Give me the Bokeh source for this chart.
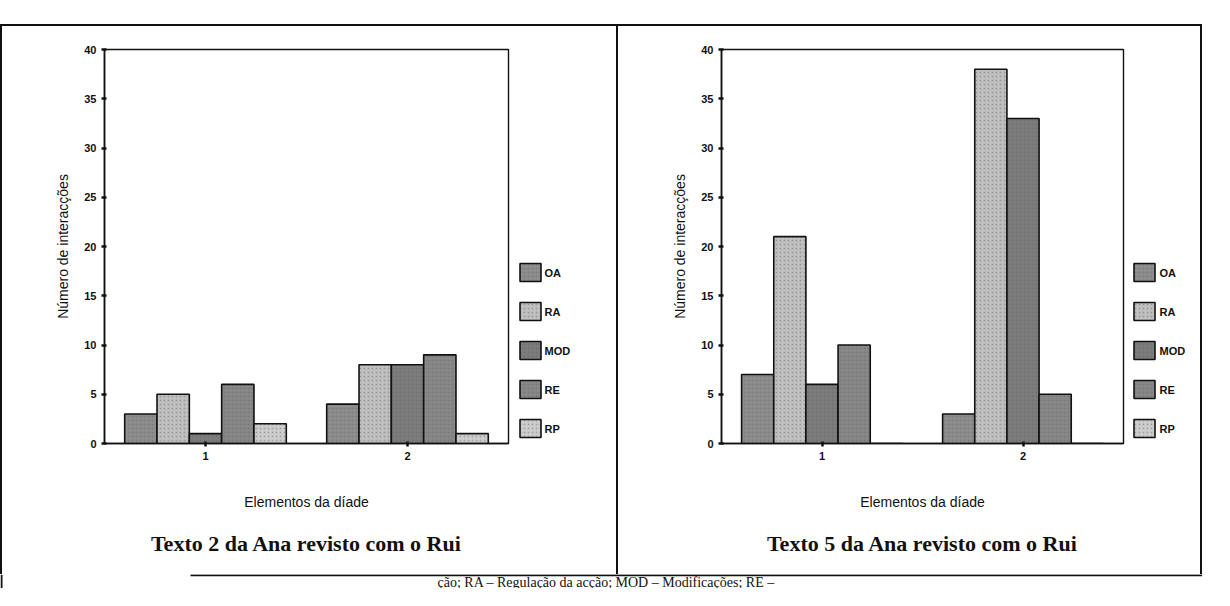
from bokeh.plotting import figure
from bokeh.models import (FactorRange, Range1d, FixedTicker, Title, Div, ColumnDataSource)
from bokeh.layouts import row, column
from bokeh.transform import dodge
from bokeh.core.properties import value
from bokeh.embed import file_html
from bokeh.resources import INLINE

# ---------------- data ----------------
groups = ["1", "2"]
series = ["OA", "RA", "MOD", "RE", "RP"]

t2_OA = [3, 4]
t2_RA = [5, 8]
t2_MOD = [1, 8]
t2_RE = [6, 9]
t2_RP = [2, 1]

t5_OA = [7, 3]
t5_RA = [21, 38]
t5_MOD = [6, 33]
t5_RE = [10, 5]
t5_RP = [0, 0]

y_ticks = [0, 5, 10, 15, 20, 25, 30, 35, 40]
y_label = "Número de interacções"
x_label = "Elementos da díade"
title_left = "Texto 2 da Ana revisto com o Rui"
title_right = "Texto 5 da Ana revisto com o Rui"
caption = "ção; RA – Regulação da acção; MOD – Modificações; RE –"

# ---------------- styles ----------------
colors = ["#8e8e8e", "#c0c0c0", "#7c7c7c", "#888888", "#cdcdcd"]
offsets = [-0.32, -0.16, 0.0, 0.16, 0.32]
SANS = "Liberation Sans"
SERIF = "Liberation Serif"
INK = "#111111"
FH = 394          # frame height (pixels)
MBT = 23          # top border shared by the row
MBB = 131         # bottom border shared by the row
HATCH = dict(hatch_pattern="dot", hatch_scale=4, hatch_color="#555555",
             hatch_alpha=0.35, hatch_weight=1)


def make_chart(vals, title, fw, mb_left):
    src = ColumnDataSource(dict(g=groups, **{s: v for s, v in zip(series, vals)}))
    p = figure(x_range=FactorRange(factors=groups, range_padding=0),
               y_range=Range1d(0, 40), frame_width=fw, frame_height=FH,
               output_backend="svg", toolbar_location=None,
               min_border_left=mb_left, min_border_right=2,
               min_border_top=MBT, min_border_bottom=MBB,
               background_fill_color="white", border_fill_color="white")
    p.xgrid.visible = False
    p.ygrid.visible = False
    p.outline_line_color = INK
    p.outline_line_width = 1.4

    for s, c, off in zip(series, colors, offsets):
        p.vbar(x=dodge("g", off, range=p.x_range), top=s, width=0.16, source=src,
               fill_color=c, line_color=INK, line_width=1.6, **HATCH)

    for ax in (p.xaxis[0], p.yaxis[0]):
        ax.axis_line_color = INK
        ax.axis_line_width = 1.6
        ax.major_tick_line_color = INK
        ax.major_tick_line_width = 2.5
        ax.major_tick_in = 2
        ax.major_tick_out = 3
        ax.minor_tick_line_color = None
        ax.major_label_text_font = SANS
        ax.major_label_text_font_style = "bold"
        ax.major_label_text_font_size = "11px"
        ax.major_label_text_color = INK
        ax.axis_label_text_font = SANS
        ax.axis_label_text_font_style = "normal"
        ax.axis_label_text_font_size = "14px"
        ax.axis_label_text_color = INK

    p.yaxis[0].ticker = FixedTicker(ticks=y_ticks)
    p.yaxis[0].axis_label = y_label
    p.yaxis[0].axis_label_standoff = 10
    p.xaxis[0].axis_label = x_label
    p.xaxis[0].axis_label_standoff = 31

    t = Title(text=title, align="center", text_font=SERIF,
              text_font_size="22px", text_font_style="bold", text_color=INK,
              standoff=32)
    p.add_layout(t, "below")
    return p


def make_legend(width, box_x, text_x):
    # legend panel beside a chart: swatches drawn from the series list
    row_y = [223, 262, 301, 340, 379]      # centres, pixels below the frame top
    lg = figure(x_range=Range1d(0, width), y_range=Range1d(FH, 0),
                frame_width=width, frame_height=FH, output_backend="svg",
                toolbar_location=None, min_border_left=0, min_border_right=0,
                min_border_top=MBT, min_border_bottom=MBB,
                background_fill_color="white", border_fill_color="white")
    lg.outline_line_color = None
    lg.axis.visible = False
    lg.grid.visible = False
    src = ColumnDataSource(dict(x=[box_x] * len(series), y=row_y, c=colors,
                                tx=[text_x] * len(series), lab=series))
    lg.rect(x="x", y="y", width=21, height=18, fill_color="c", line_color=INK,
            line_width=1.6, source=src, **HATCH)
    lg.text(x="tx", y="y", text="lab", source=src, text_font=value(SANS),
            text_font_size="11px", text_font_style="bold", text_color=INK,
            text_baseline="middle", text_align="left")
    return lg


def vline(h):
    return Div(text="", width=2, height=h, margin=0, styles={"background-color": INK})


p1 = make_chart([t2_OA, t2_RA, t2_MOD, t2_RE, t2_RP], title_left, fw=404, mb_left=102)
leg1 = make_legend(106, box_x=20, text_x=34)
p2 = make_chart([t5_OA, t5_RA, t5_MOD, t5_RE, t5_RP], title_right, fw=402, mb_left=103)
leg2 = make_legend(75, box_x=19, text_x=34)

top = Div(text="", width=1202, height=26, margin=0,
          styles={"background": "linear-gradient(to bottom, #ffffff 24px, #111111 24px)"})

cap = figure(x_range=Range1d(0, 1202), y_range=Range1d(14, 0), width=1202, height=14,
             output_backend="svg", toolbar_location=None, min_border=0,
             background_fill_color="white", border_fill_color="white")
cap.outline_line_color = None
cap.axis.visible = False
cap.grid.visible = False
cap.segment(x0=[1, 190], y0=[0, 0.8], x1=[1, 1202], y1=[14, 0.8],
            line_color=INK, line_width=2)
cap.text(x=[437], y=[8], text=[caption], text_font=value(SERIF),
         text_font_size="14px", text_color=INK, text_baseline="middle",
         text_align="left")

layout = column(
    top,
    row(vline(548), p1, leg1, vline(548), p2, leg2, vline(548), spacing=0),
    cap,
    spacing=0)

open("out.html", "w").write(file_html(layout, INLINE))
